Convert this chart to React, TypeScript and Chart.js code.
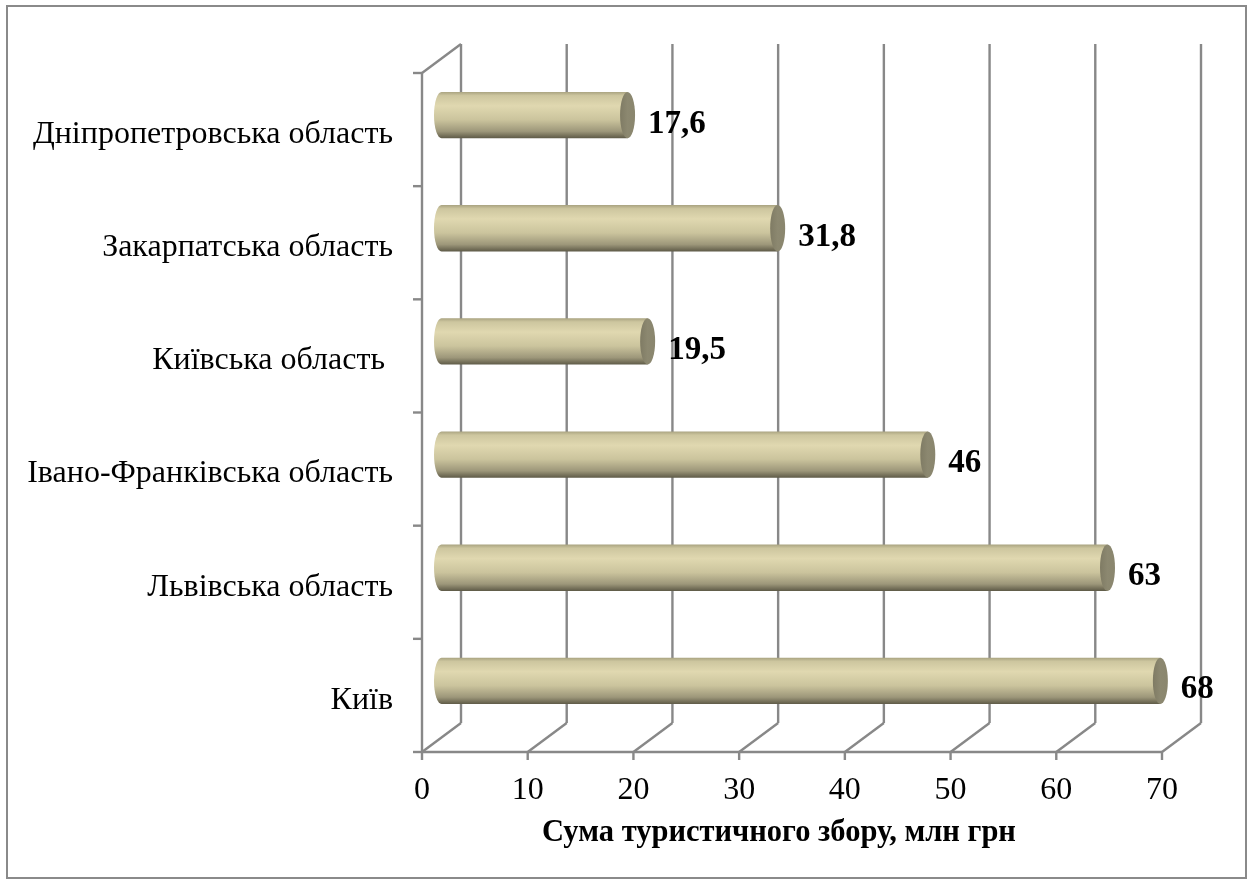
import React, { useEffect, useRef } from "react";
import { Chart, registerables } from "chart.js";

Chart.register(...registerables);

const categories = [
  "Дніпропетровська область",
  "Закарпатська область",
  "Київська область ",
  "Івано-Франківська область",
  "Львівська область",
  "Київ",
];
const values = [17.6, 31.8, 19.5, 46, 63, 68];
const valueLabels = ["17,6", "31,8", "19,5", "46", "63", "68"];
const xTicks = [0, 10, 20, 30, 40, 50, 60, 70];
const axisTitle = "Сума туристичного збору, млн грн";

const W = 1253;
const H = 885;
const DX = 39;
const DY = -29;
const GRID = "#888888";
const SERIF = '"Liberation Serif", "Times New Roman", serif';

function line(ctx: CanvasRenderingContext2D, x1: number, y1: number, x2: number, y2: number) {
  ctx.beginPath();
  ctx.moveTo(x1, y1);
  ctx.lineTo(x2, y2);
  ctx.stroke();
}

const excel3d = {
  id: "excel3d",
  beforeDraw(chart: any) {
    const { ctx, chartArea, scales } = chart;
    const { left, right, top, bottom } = chartArea;
    const x = scales.x;
    const y = scales.y;
    ctx.save();
    ctx.fillStyle = "#ffffff";
    ctx.fillRect(0, 0, chart.width, chart.height);
    ctx.strokeStyle = "#8a8a8a";
    ctx.lineWidth = 2;
    ctx.strokeRect(7, 6, 1239, 872);

    ctx.strokeStyle = GRID;
    ctx.lineWidth = 2.4;
    xTicks.forEach((v) => {
      const px = x.getPixelForValue(v);
      line(ctx, px + DX, top + DY, px + DX, bottom + DY);
      line(ctx, px, bottom, px + DX, bottom + DY);
      line(ctx, px, bottom, px, bottom + 8);
    });
    line(ctx, left, top, left, bottom);
    line(ctx, left, top, left + DX, top + DY);
    line(ctx, left, bottom, right, bottom);
    const step = y.getPixelForValue(1) - y.getPixelForValue(0);
    for (let i = 0; i <= categories.length; i++) {
      const py = y.getPixelForValue(i) - step / 2;
      line(ctx, left - 9, py, left, py);
    }

    ctx.fillStyle = "#000";
    ctx.font = `32px ${SERIF}`;
    ctx.textAlign = "center";
    ctx.textBaseline = "middle";
    xTicks.forEach((v) => {
      ctx.fillText(String(v), x.getPixelForValue(v), bottom + 39);
    });
    ctx.textAlign = "right";
    categories.forEach((c, i) => {
      ctx.fillText(c, left - 29, y.getPixelForValue(i) + 5);
    });
    ctx.textAlign = "center";
    ctx.font = `bold 30.5px ${SERIF}`;
    ctx.fillText(axisTitle, (left + right) / 2 - 13, 833);
    ctx.restore();
  },
  afterDatasetsDraw(chart: any) {
    const { ctx } = chart;
    const meta = chart.getDatasetMeta(0);
    ctx.save();
    meta.data.forEach((el: any, i: number) => {
      const p = el.getProps(["x", "y", "base", "height"], true);
      const x0 = p.base + DX / 2;
      const x1 = p.x + DX / 2;
      const cy = p.y + DY / 2;
      const ry = p.height / 2;
      const rx = 7.5;
      const t = cy - ry;
      const b = cy + ry;
      const g = ctx.createLinearGradient(0, t, 0, b);
      g.addColorStop(0, "#a9a380");
      g.addColorStop(0.08, "#cdc69f");
      g.addColorStop(0.3, "#e0d8b0");
      g.addColorStop(0.6, "#cbc49d");
      g.addColorStop(0.85, "#9d977a");
      g.addColorStop(1, "#5e5a47");
      ctx.beginPath();
      ctx.moveTo(x1, t);
      ctx.lineTo(x0, t);
      ctx.ellipse(x0, cy, rx, ry, 0, -Math.PI / 2, Math.PI / 2, true);
      ctx.lineTo(x1, b);
      ctx.closePath();
      ctx.fillStyle = g;
      ctx.fill();

      const cg = ctx.createLinearGradient(x1 - rx, 0, x1 + rx, 0);
      cg.addColorStop(0, "#7f7b64");
      cg.addColorStop(0.5, "#8c8870");
      cg.addColorStop(1, "#8a866e");
      ctx.beginPath();
      ctx.ellipse(x1, cy, rx, ry, 0, 0, Math.PI * 2);
      ctx.fillStyle = cg;
      ctx.fill();

      ctx.fillStyle = "#000";
      ctx.font = `bold 33px ${SERIF}`;
      ctx.textAlign = "left";
      ctx.textBaseline = "middle";
      ctx.fillText(valueLabels[i], x1 + rx + 13, cy + 9);
    });
    ctx.restore();
  },
};

export default function App() {
  const ref = useRef<HTMLCanvasElement | null>(null);
  useEffect(() => {
    if (!ref.current) return;
    const chart = new Chart(ref.current, {
      type: "bar",
      data: {
        labels: categories,
        datasets: [
          {
            data: values,
            backgroundColor: "rgba(0,0,0,0)",
            borderWidth: 0,
            barPercentage: 0.41,
            categoryPercentage: 1,
          },
        ],
      },
      options: {
        indexAxis: "y",
        animation: false,
        responsive: false,
        maintainAspectRatio: false,
        devicePixelRatio: 1,
        layout: { padding: { left: 422, right: W - 1162, top: 73, bottom: H - 752 } },
        scales: {
          x: { type: "linear", min: 0, max: 70, display: false },
          y: { type: "category", display: false, offset: true },
        },
        plugins: { legend: { display: false }, tooltip: { enabled: false } },
      },
      plugins: [excel3d],
    } as any);
    return () => chart.destroy();
  }, []);
  return (
    <div style={{ position: "absolute", left: 0, top: 0, width: W, height: H }}>
      <canvas ref={ref} width={W} height={H} style={{ display: "block" }} />
    </div>
  );
}
